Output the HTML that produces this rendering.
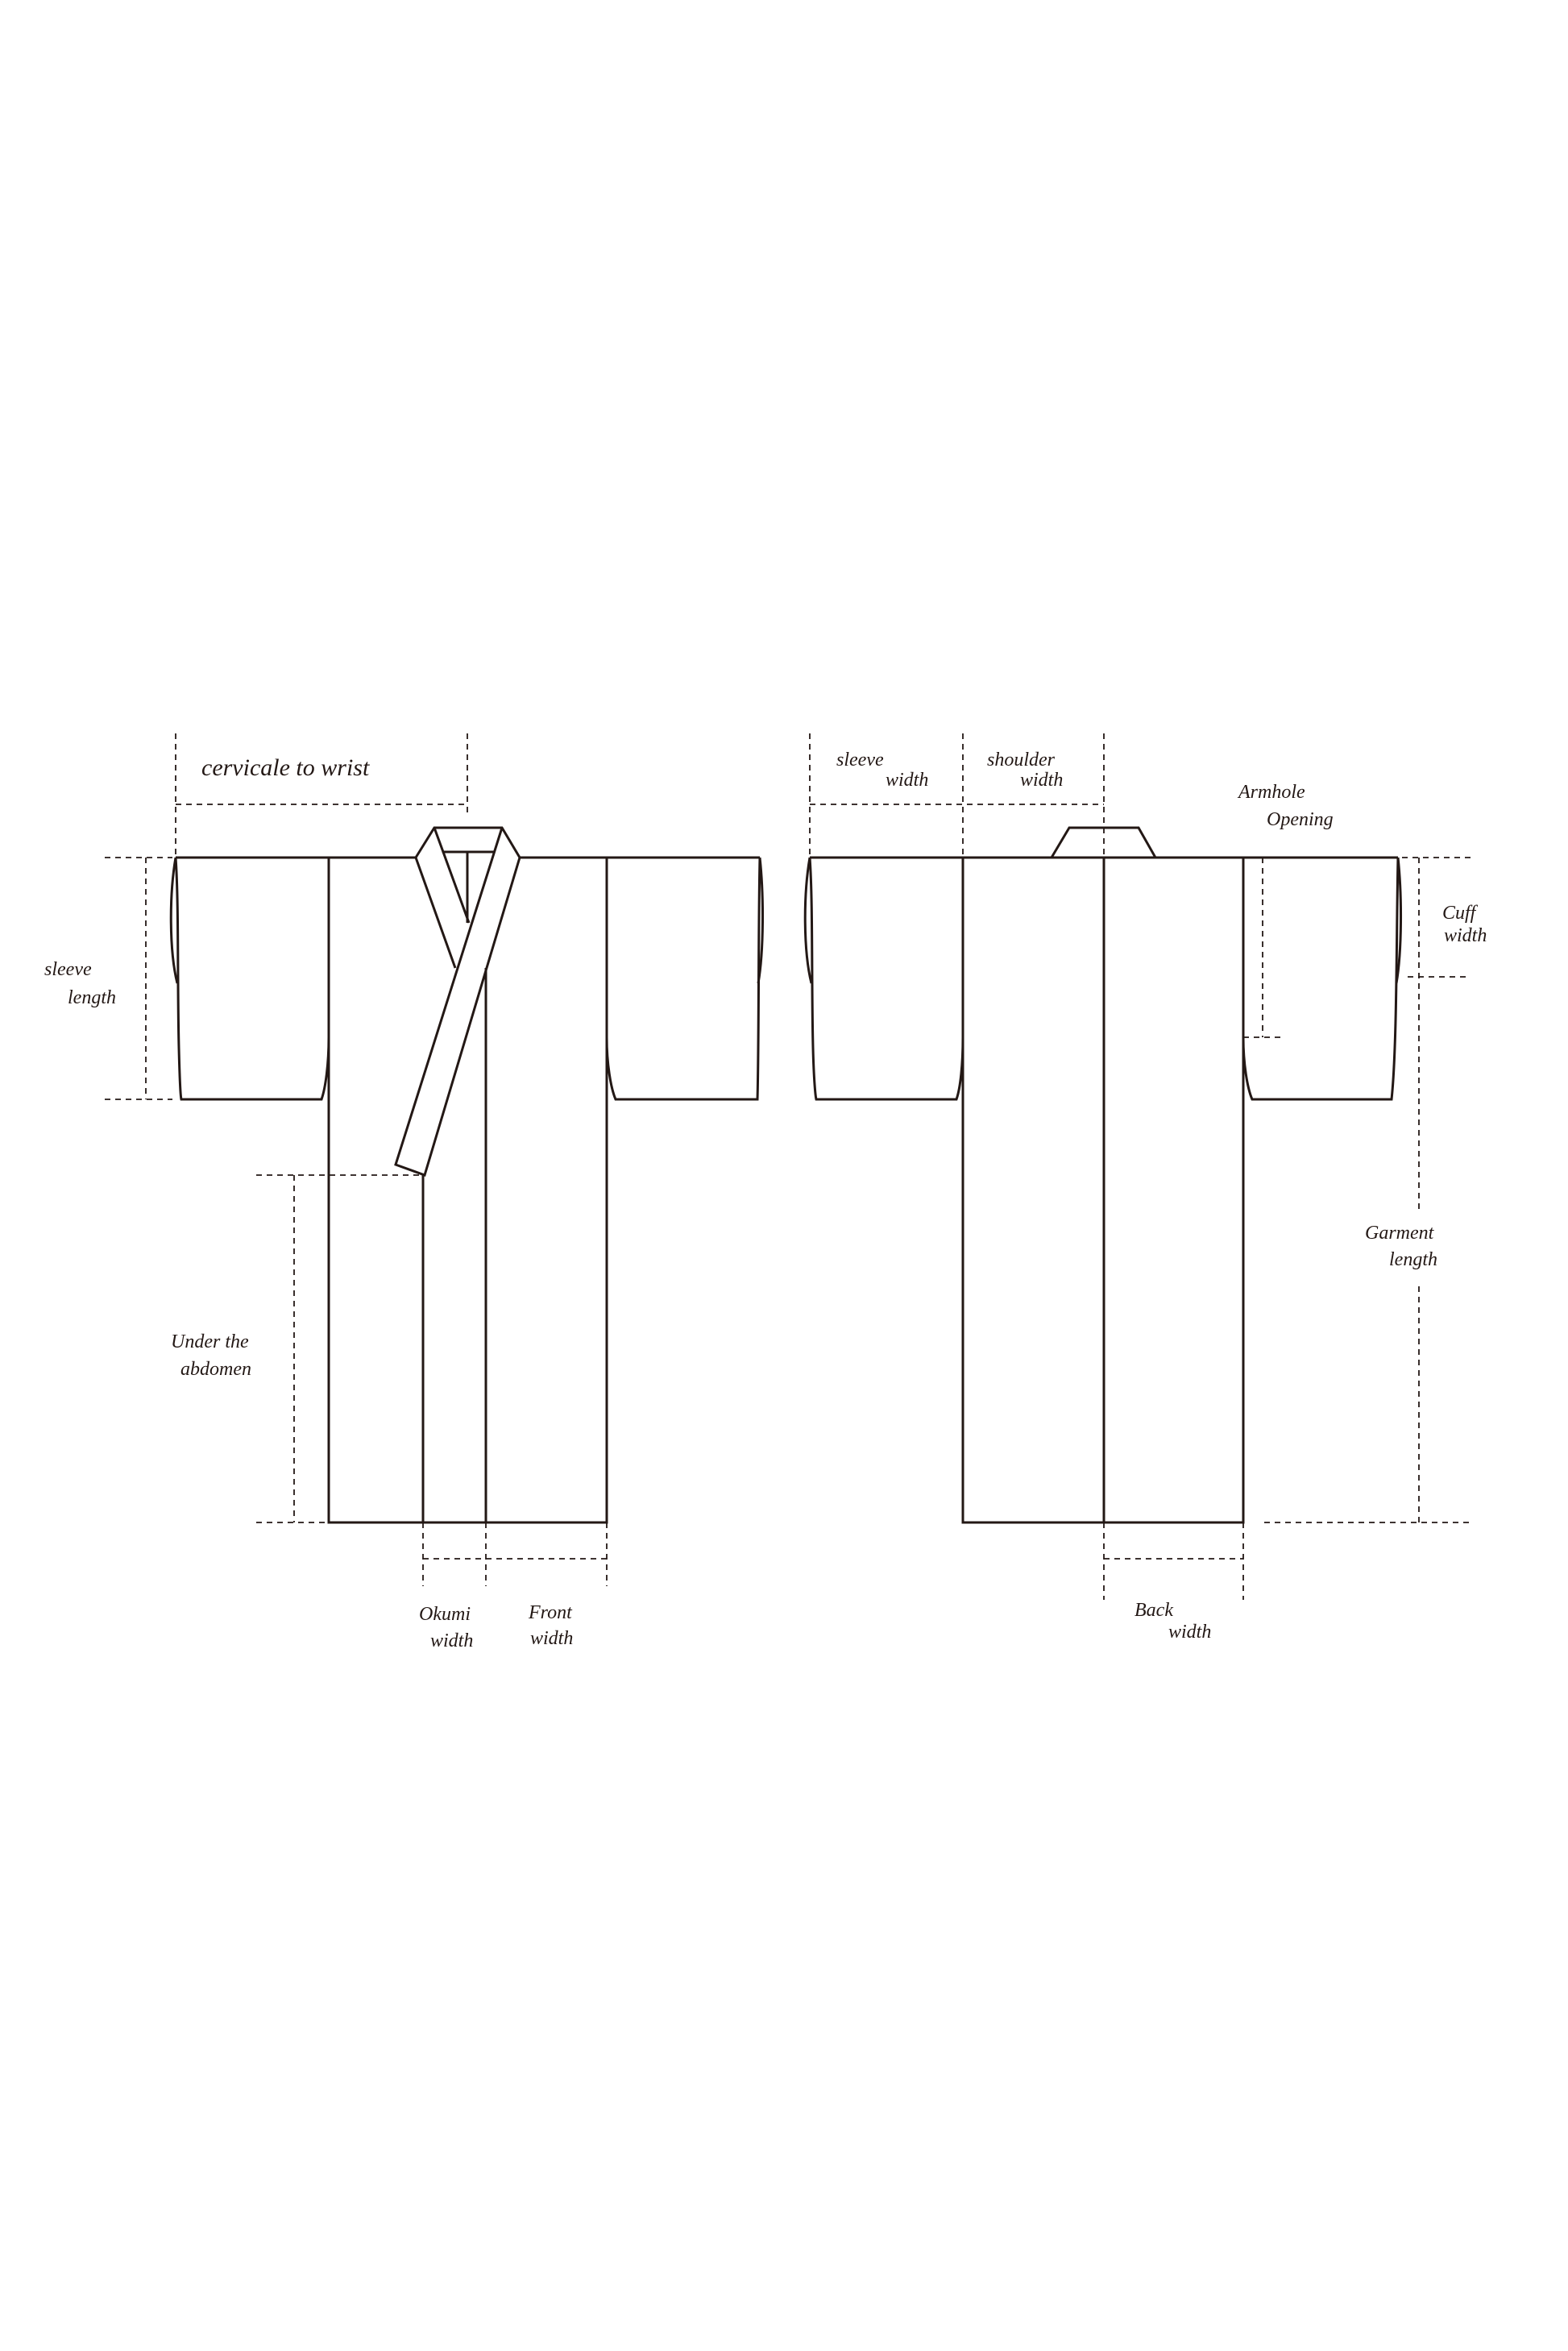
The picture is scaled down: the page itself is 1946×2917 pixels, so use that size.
<!DOCTYPE html>
<html><head><style>
html,body{margin:0;padding:0;background:#fff;}
svg{display:block;}
text{font-family:"Liberation Serif",serif;font-style:italic;fill:#231815;}
</style></head><body>
<svg width="1946" height="2917" viewBox="0 0 1946 2917" xmlns="http://www.w3.org/2000/svg">
<g fill="none" stroke="#231815" stroke-width="3" stroke-linejoin="miter">
<!-- LEFT KIMONO -->
<path d="M218,1064 H516 M645,1064 H943"/>
<path d="M218,1064 C222,1120 220,1220 222,1300 C223,1340 224,1360 225,1364 H399 C404,1350 408,1320 408,1287"/>
<path d="M218,1064 C210,1110 210,1180 220,1220"/>
<path d="M408,1064 V1889 H753 V1064"/>
<path d="M943,1064 C941,1150 942,1300 940,1364 H764 C758,1350 753,1320 753,1287"/>
<path d="M943,1064 C948,1110 948,1180 941,1220"/>
<path d="M516,1064 L539,1027 H623 L645,1064 L527,1458 L491,1445 L623,1027"/>
<path d="M539,1027 L550,1057 H614"/>
<path d="M516,1064 L565,1201"/>
<path d="M550,1057 L582,1145"/>
<path d="M580,1058 V1145"/>
<path d="M525,1458 V1889"/>
<path d="M603,1201 V1889"/>
<!-- RIGHT KIMONO -->
<path d="M1005,1064 H1735"/>
<path d="M1305,1064 L1327,1027 H1413 L1434,1064"/>
<path d="M1005,1064 C1009,1120 1007,1220 1009,1300 C1010,1340 1012,1360 1013,1364 H1187 C1192,1350 1195,1320 1195,1287"/>
<path d="M1005,1064 C997,1110 997,1180 1007,1220"/>
<path d="M1195,1064 V1889 H1543 V1064"/>
<path d="M1370,1064 V1889"/>
<path d="M1735,1064 C1733,1150 1734,1300 1727,1364 H1554 C1548,1350 1543,1320 1543,1287"/>
<path d="M1735,1064 C1740,1110 1740,1180 1733,1220"/>
</g>
<g fill="none" stroke="#231815" stroke-width="1.8" stroke-dasharray="7,6">
<path d="M218,910 V1064 M580,910 V1010 M218,998 H580"/>
<path d="M130,1064 H214 M130,1364 H214 M181,1064 V1364"/>
<path d="M318,1458 H527 M365,1458 V1889 M318,1889 H408"/>
<path d="M525,1889 V1968 M603,1889 V1968 M753,1889 V1968 M525,1934 H753"/>
<path d="M1005,910 V1064 M1195,910 V1064 M1370,910 V1064 M1005,998 H1370"/>
<path d="M1567,1064 V1287 M1543,1287 H1593"/>
<path d="M1740,1064 H1825 M1747,1212 H1825 M1761,1064 V1503 M1761,1596 V1889 M1569,1889 H1825"/>
<path d="M1370,1889 V1985 M1543,1889 V1985 M1370,1934 H1543"/>
</g>
<g font-size="24">
<text x="250" y="962" font-size="30">cervicale to wrist</text>
<text x="55" y="1210">sleeve</text>
<text x="84" y="1245">length</text>
<text x="212" y="1672">Under the</text>
<text x="224" y="1706">abdomen</text>
<text x="520" y="2010">Okumi</text>
<text x="534" y="2043">width</text>
<text x="656" y="2008">Front</text>
<text x="658" y="2040">width</text>
<text x="1038" y="950">sleeve</text>
<text x="1099" y="975">width</text>
<text x="1225" y="950">shoulder</text>
<text x="1266" y="975">width</text>
<text x="1537" y="990">Armhole</text>
<text x="1572" y="1024">Opening</text>
<text x="1790" y="1140">Cuff</text>
<text x="1792" y="1168">width</text>
<text x="1694" y="1537">Garment</text>
<text x="1724" y="1570">length</text>
<text x="1408" y="2005">Back</text>
<text x="1450" y="2032">width</text>
</g>
</svg>
</body></html>
